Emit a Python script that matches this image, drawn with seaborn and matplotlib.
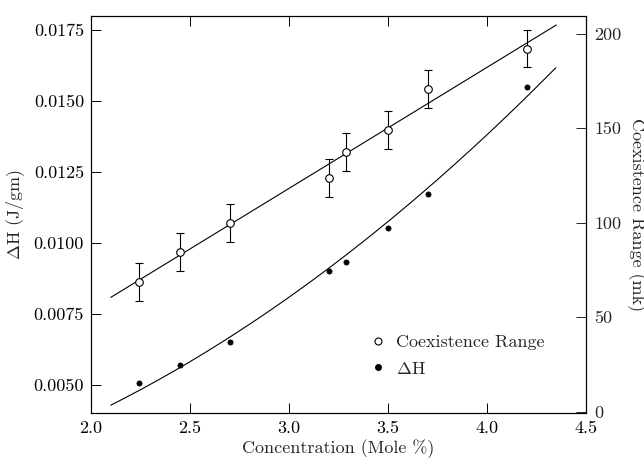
import numpy as np
import pandas as pd
import matplotlib
matplotlib.use("Agg")
import matplotlib.pyplot as plt
import seaborn as sns
from matplotlib.lines import Line2D

# ---- data ----
conc = [2.24, 2.45, 2.70, 3.20, 3.29, 3.50, 3.70, 4.20]
coex_range = [68.8, 84.7, 99.7, 123.7, 137.6, 148.9, 170.9, 192.1]   # mk
coex_err = [10, 10, 10, 10, 10, 10, 10, 10]
delta_h = [0.00509, 0.00571, 0.00653, 0.00903, 0.00934, 0.01052, 0.01171, 0.01548]  # J/gm

# fitted curves
coex_fit_x = [2.10, 4.35]
coex_fit_y = [60.5, 204.6]
dh_fit_x = [2.10, 2.45, 2.70, 3.056, 3.123, 3.695, 4.197, 4.348]
dh_fit_y = [0.0043, 0.00567, 0.00658, 0.00839, 0.00874, 0.0119, 0.01517, 0.01613]

xticks = [2.0, 2.5, 3.0, 3.5, 4.0, 4.5]
left_ticks = [0.0050, 0.0075, 0.0100, 0.0125, 0.0150, 0.0175]
right_ticks = [0, 50, 100, 150, 200]

sns.set_theme(style="ticks")
plt.rcParams['font.family'] = ['cmr10', 'DejaVu Serif']
plt.rcParams['mathtext.fontset'] = 'cm'
plt.rcParams['axes.unicode_minus'] = False
plt.rcParams['axes.formatter.use_mathtext'] = True

fig = plt.figure(figsize=(6.44, 4.59), dpi=100)
ax = fig.add_axes([0.1413, 0.1009, 0.9100 - 0.1413, 0.9658 - 0.1009])
ax2 = ax.twinx()

df = pd.DataFrame({"conc": conc, "range": coex_range, "err": coex_err, "dh": delta_h})

# smooth fit curves through the read curve samples
xs = np.linspace(dh_fit_x[0], dh_fit_x[-1], 200)
fit2 = pd.DataFrame({"x": xs, "y": np.polyval(np.polyfit(dh_fit_x, dh_fit_y, 2), xs)})
fit1 = pd.DataFrame({"x": coex_fit_x, "y": coex_fit_y})

sns.lineplot(data=fit2, x="x", y="y", ax=ax, color="black", lw=0.8)
sns.scatterplot(data=df, x="conc", y="dh", ax=ax, color="black", s=14,
                edgecolor="black", linewidth=0.5, zorder=3)

sns.lineplot(data=fit1, x="x", y="y", ax=ax2, color="black", lw=0.8)
ax2.errorbar(df.conc, df.range, yerr=df.err, fmt="none", ecolor="black",
             elinewidth=0.8, capsize=3, capthick=0.8, zorder=2)
sns.scatterplot(data=df, x="conc", y="range", ax=ax2, marker="o", s=30,
                facecolor="white", edgecolor="black", linewidth=0.8, zorder=4)

ax.set_xlim(2.0, 4.5)
ax.set_ylim(0.00403, 0.0180)
ax2.set_ylim(-0.5, 209.5)

ax.set_xticks(xticks)
ax.set_xticklabels([f"{t:.1f}" for t in xticks])
ax.set_yticks(left_ticks)
ax.set_yticklabels([f"{t:.4f}" for t in left_ticks])
ax2.set_yticks(right_ticks)
ax2.set_yticklabels([str(t) for t in right_ticks])

fs = 13
ax.tick_params(axis="both", direction="in", length=7, width=0.7, labelsize=fs,
               top=True, colors="black", pad=6)
ax.tick_params(axis="y", right=False, pad=5)
ax2.tick_params(axis="y", direction="in", length=7, width=0.7, labelsize=fs, pad=6)

ax.set_xlabel("Concentration (Mole %)", fontsize=fs, labelpad=2)
ax.set_ylabel(r"$\Delta$H (J/gm)", fontsize=fs, labelpad=5)
ax2.set_ylabel("Coexistence Range (mk)", fontsize=fs, rotation=270, labelpad=17)

for a in (ax, ax2):
    for s in a.spines.values():
        s.set_linewidth(0.8)
        s.set_color("black")
        s.set_visible(True)

handles = [
    Line2D([], [], marker="o", ls="none", markersize=5, markerfacecolor="white",
           markeredgecolor="black", markeredgewidth=0.8),
    Line2D([], [], marker="o", ls="none", markersize=4, markerfacecolor="black",
           markeredgecolor="black"),
]
ax2.legend(handles, ["Coexistence Range", r"$\Delta$H"], loc="center left",
           bbox_to_anchor=(0.525, 0.144), frameon=False, fontsize=fs,
           handletextpad=0.4, labelspacing=0.6, handlelength=1.2)

fig.savefig("out.png", dpi=100)
